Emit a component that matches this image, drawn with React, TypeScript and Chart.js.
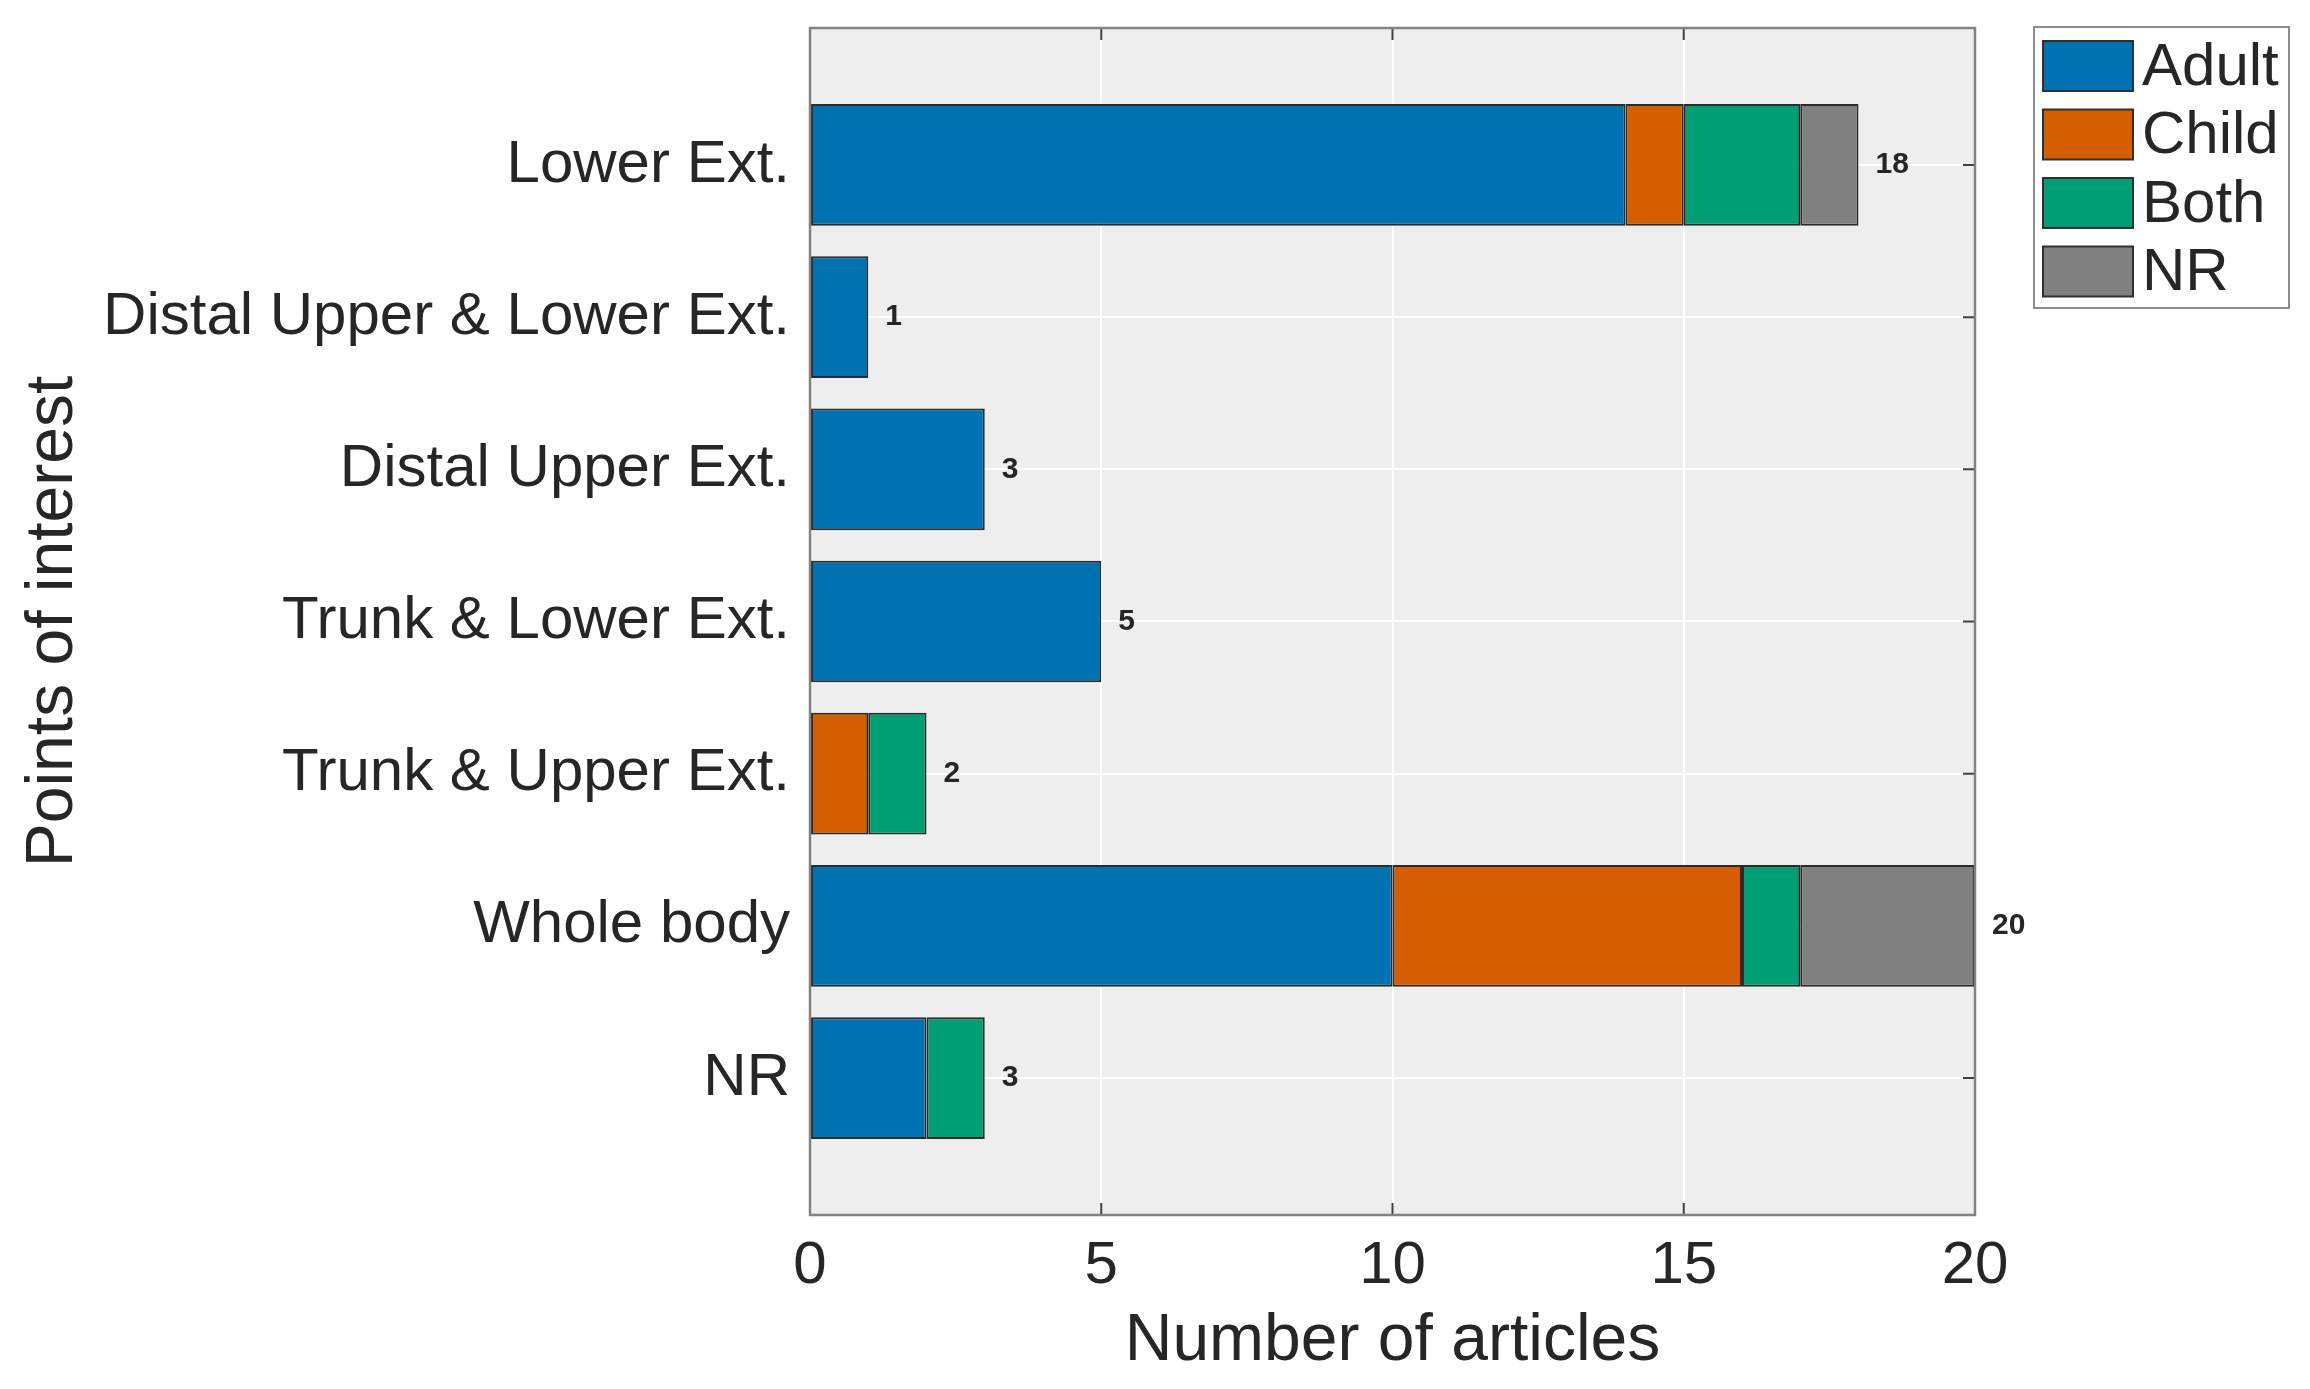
import React, { useEffect, useRef } from "react";
import { Chart, registerables } from "chart.js";

Chart.register(...registerables);

const categories = [
  "Lower Ext.",
  "Distal Upper & Lower Ext.",
  "Distal Upper Ext.",
  "Trunk & Lower Ext.",
  "Trunk & Upper Ext.",
  "Whole body",
  "NR",
];
const adult = [14, 1, 3, 5, 0, 10, 2];
const child = [1, 0, 0, 0, 1, 6, 0];
const both = [2, 0, 0, 0, 1, 1, 1];
const notReported = [1, 0, 0, 0, 0, 3, 0];
const seriesLabels = ["Adult", "Child", "Both", "NR"];
const seriesColors = ["#0072B2", "#D55E00", "#009E73", "#808080"];
const xTicks = [0, 5, 10, 15, 20];
const xTitle = "Number of articles";
const yTitle = "Points of interest";

const FONT = "'Liberation Sans', Arial, Helvetica, sans-serif";
const TEXT = "#262626";

const seriesValues = [adult, child, both, notReported];
const totals = categories.map((_, i) => seriesValues.reduce((s, arr) => s + arr[i], 0));

const bgPlugin = {
  id: "plotBackground",
  beforeDraw(chart: any) {
    const { ctx, chartArea: a } = chart;
    ctx.save();
    ctx.fillStyle = "#EEEEEE";
    ctx.fillRect(a.left, a.top, a.right - a.left, a.bottom - a.top);
    ctx.restore();
  },
};

const tickMarksPlugin = {
  id: "innerTicks",
  beforeDatasetsDraw(chart: any) {
    const { ctx, chartArea: a, scales } = chart;
    const len = 12;
    ctx.save();
    ctx.strokeStyle = "#404040";
    ctx.lineWidth = 2;
    ctx.beginPath();
    xTicks.forEach((t) => {
      const px = scales.x.getPixelForValue(t);
      ctx.moveTo(px, a.bottom);
      ctx.lineTo(px, a.bottom - len);
      ctx.moveTo(px, a.top);
      ctx.lineTo(px, a.top + len);
    });
    categories.forEach((_, i) => {
      const py = scales.y.getPixelForValue(i + 1);
      ctx.moveTo(a.left, py);
      ctx.lineTo(a.left + len, py);
      ctx.moveTo(a.right, py);
      ctx.lineTo(a.right - len, py);
    });
    ctx.stroke();
    ctx.restore();
  },
};

const overlayPlugin = {
  id: "overlay",
  afterDatasetsDraw(chart: any) {
    const { ctx, chartArea: a, scales } = chart;
    ctx.save();
    ctx.strokeStyle = "#828282";
    ctx.lineWidth = 2.5;
    ctx.strokeRect(a.left, a.top, a.right - a.left, a.bottom - a.top);
    ctx.fillStyle = TEXT;
    ctx.font = `bold 30px ${FONT}`;
    ctx.textAlign = "left";
    ctx.textBaseline = "middle";
    totals.forEach((t, i) => {
      const px = scales.x.getPixelForValue(t) + 17;
      const py = scales.y.getPixelForValue(i + 1);
      ctx.fillText(String(t), px, py);
    });
    ctx.restore();
  },
  afterDraw(chart: any) {
    const { ctx } = chart;
    const boxLeft = 2034;
    const boxTop = 27;
    const boxW = 255;
    const boxH = 281;
    ctx.save();
    ctx.fillStyle = "#FFFFFF";
    ctx.fillRect(boxLeft, boxTop, boxW, boxH);
    ctx.strokeStyle = "#8C8C8C";
    ctx.lineWidth = 2;
    ctx.strokeRect(boxLeft, boxTop, boxW, boxH);
    const ds = chart.data.datasets;
    ctx.font = `60px ${FONT}`;
    ctx.textAlign = "left";
    ctx.textBaseline = "middle";
    ds.forEach((d: any, i: number) => {
      const top = boxTop + 14 + i * 68.5;
      ctx.fillStyle = d.backgroundColor;
      ctx.fillRect(boxLeft + 9, top, 90, 50);
      ctx.strokeStyle = "#303030";
      ctx.lineWidth = 2;
      ctx.strokeRect(boxLeft + 9, top, 90, 50);
      ctx.fillStyle = TEXT;
      ctx.fillText(d.label, boxLeft + 108, top + 27);
    });
    ctx.restore();
  },
};

export default function App() {
  const ref = useRef<HTMLCanvasElement | null>(null);

  useEffect(() => {
    if (!ref.current) return;
    const datasets = seriesValues.map((vals, s) => ({
      label: seriesLabels[s],
      backgroundColor: seriesColors[s],
      borderColor: "#2B2B2B",
      borderWidth: 2,
      borderSkipped: false as any,
      categoryPercentage: 0.8,
      barPercentage: 1.0,
      data: vals
        .map((v, i) => ({ x: v, y: i + 1 }))
        .filter((p) => p.x > 0),
    }));

    const chart = new Chart(ref.current, {
      type: "bar",
      data: { datasets: datasets as any },
      options: {
        indexAxis: "y",
        responsive: false,
        animation: false,
        devicePixelRatio: 1,
        layout: { padding: { top: 28, right: 335, left: 0, bottom: 0 } },
        plugins: {
          legend: { display: false },
          tooltip: { enabled: false },
        },
        scales: {
          x: {
            type: "linear",
            position: "bottom",
            stacked: true,
            offset: false,
            min: 0,
            max: 20,
            afterBuildTicks: (scale: any) => {
              scale.ticks = xTicks.map((v) => ({ value: v }));
            },
            afterFit: (scale: any) => {
              scale.height = 174;
              scale.paddingLeft = 0;
              scale.paddingRight = 0;
              scale.paddingTop = 0;
              scale.paddingBottom = 0;
            },
            grid: { color: "#FFFFFF", lineWidth: 2, drawTicks: false, offset: false },
            border: { display: false },
            ticks: {
              padding: 15,
              color: TEXT,
              font: { family: FONT, size: 60 },
              maxRotation: 0,
              autoSkip: false,
            },
            title: {
              display: true,
              text: xTitle,
              color: TEXT,
              font: { family: FONT, size: 66 },
              padding: { top: 0, bottom: 8 },
            },
          },
          y: {
            type: "linear",
            position: "left",
            stacked: true,
            reverse: true,
            offset: false,
            min: 0.1,
            max: 7.9,
            afterBuildTicks: (scale: any) => {
              scale.ticks = categories.map((_, i) => ({ value: i + 1 }));
            },
            afterFit: (scale: any) => {
              scale.width = 810;
              scale.paddingLeft = 0;
              scale.paddingRight = 0;
              scale.paddingTop = 0;
              scale.paddingBottom = 0;
            },
            grid: { color: "#FFFFFF", lineWidth: 2, drawTicks: false, offset: false },
            border: { display: false },
            ticks: {
              padding: 20,
              color: TEXT,
              autoSkip: false,
              font: { family: FONT, size: 60 },
              callback: (v: any) => categories[Math.round(Number(v)) - 1] ?? "",
            },
            title: {
              display: true,
              text: yTitle,
              color: TEXT,
              font: { family: FONT, size: 66 },
              padding: { top: 14, bottom: 0 },
            },
          },
        },
      },
      plugins: [bgPlugin, tickMarksPlugin, overlayPlugin],
    });
    return () => chart.destroy();
  }, []);

  return (
    <div style={{ position: "fixed", left: 0, top: 0, width: 2310, height: 1389, background: "#FFFFFF" }}>
      <canvas ref={ref} width={2310} height={1389} style={{ display: "block", width: 2310, height: 1389 }} />
    </div>
  );
}
